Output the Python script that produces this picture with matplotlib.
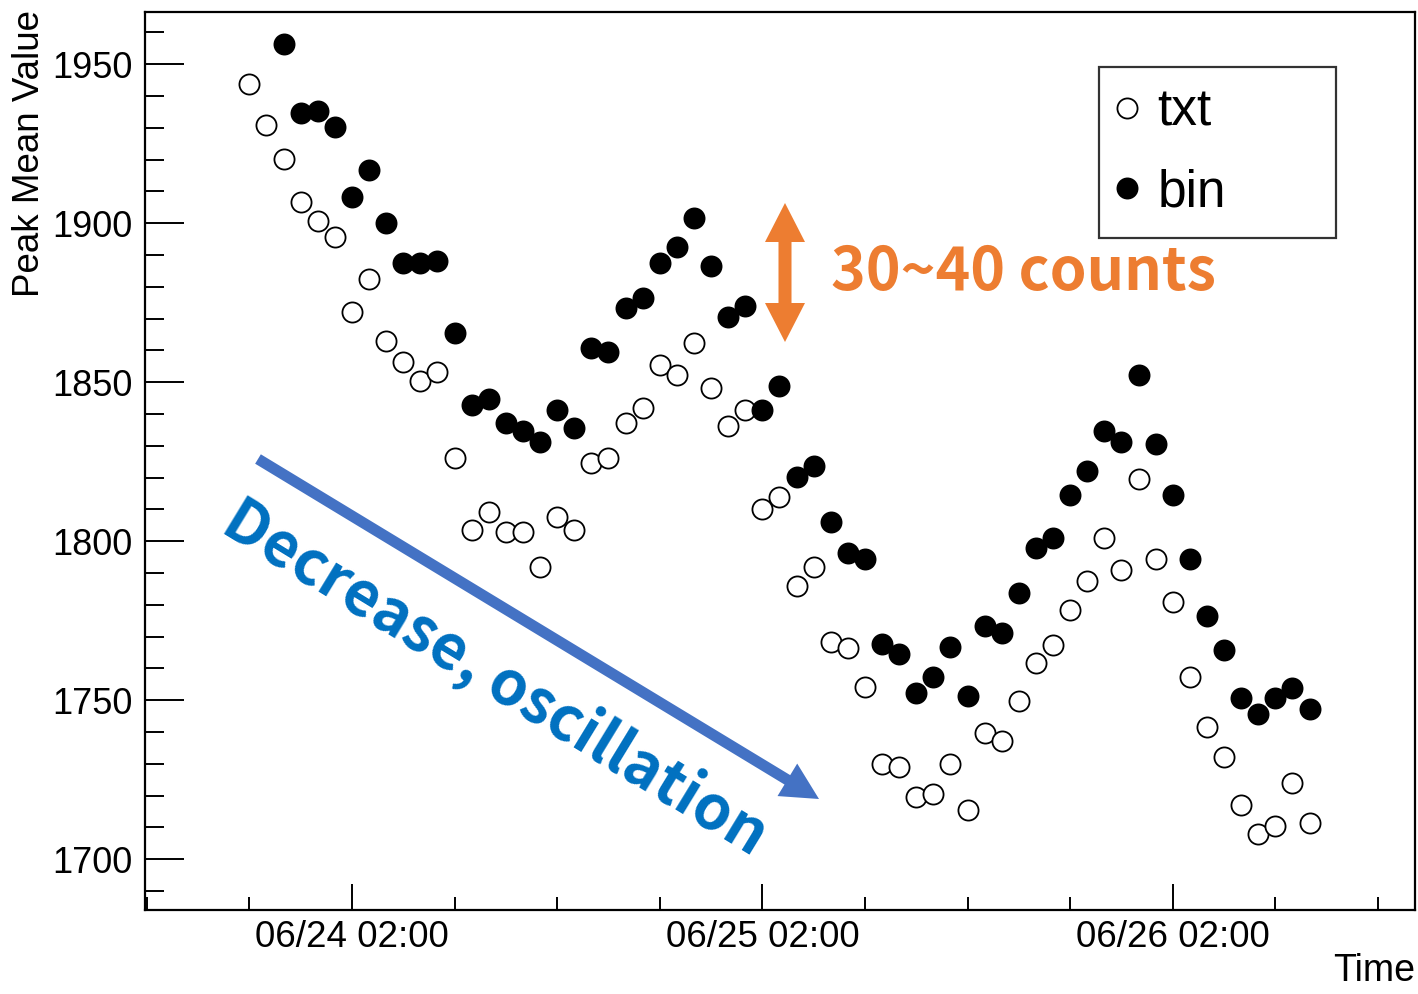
import pandas as pd
import matplotlib
matplotlib.use("Agg")
import matplotlib.pyplot as plt
import matplotlib.dates as mdates
from matplotlib.ticker import MultipleLocator
from matplotlib.patches import Polygon, FancyArrow
from matplotlib.transforms import Affine2D

# ---------------------------------------------------------
# DATA (hourly peak mean values)
# ---------------------------------------------------------
TXT_START = "2023-06-23 20:00"
BIN_START = "2023-06-23 22:00"

txt_values = [
    1943.7, 1930.8, 1920.1, 1906.6, 1900.6, 1895.6, 1872.0, 1882.4, 1862.9, 1856.3,
    1850.3, 1853.1, 1826.0, 1803.5, 1809.1, 1802.8, 1802.8, 1791.8, 1807.5, 1803.5,
    1824.5, 1826.0, 1837.0, 1841.8, 1855.3, 1852.2, 1862.3, 1848.1, 1836.2, 1841.2,
    1810.1, 1813.8, 1785.8, 1791.8, 1768.2, 1766.4, 1754.0, 1729.8, 1728.9, 1719.6,
    1720.6, 1729.8, 1715.4, 1739.7, 1737.1, 1749.7, 1761.6, 1767.4, 1778.4, 1787.5,
    1801.1, 1791.0, 1819.5, 1794.5, 1780.8, 1757.3, 1741.5, 1732.1, 1717.0, 1708.0,
    1710.4, 1723.9, 1711.3,
]

bin_values = [
    1956.3, 1934.6, 1935.2, 1930.2, 1908.2, 1916.7, 1900.0, 1887.4, 1887.4, 1888.2,
    1865.5, 1842.8, 1844.7, 1837.1, 1834.6, 1831.1, 1841.2, 1835.5, 1860.7, 1859.4,
    1873.3, 1876.4, 1887.4, 1892.5, 1901.6, 1886.5, 1870.4, 1873.9, 1841.2, 1848.7,
    1820.1, 1823.6, 1806.0, 1796.2, 1794.3, 1767.6, 1764.6, 1752.2, 1757.2, 1766.7,
    1751.3, 1773.4, 1771.0, 1783.7, 1797.8, 1800.9, 1814.5, 1822.0, 1834.6, 1831.1,
    1852.2, 1830.5, 1814.5, 1794.3, 1776.5, 1765.7, 1750.6, 1745.6, 1750.6, 1753.8,
    1747.2,
]

series_labels = ["txt", "bin"]
TIME_MIN = "2023-06-23 13:54"
TIME_MAX = "2023-06-26 16:10"
Y_MIN, Y_MAX = 1684.0, 1966.4

# ---------------------------------------------------------
# FIGURE
# ---------------------------------------------------------
W, H, DPI = 1418, 994, 100
FONT = "Liberation Sans"
JP_FONT = ["Noto Sans CJK JP", "DejaVu Sans"]

fig = plt.figure(figsize=(W / DPI, H / DPI), dpi=DPI)
ax = fig.add_axes([145 / W, 1 - 910 / H, 1270 / W, 898 / H])

# pixel coordinates (top-left origin) for the slide annotations
px = Affine2D().scale(1 / DPI, -1 / DPI).translate(0, H / DPI) + fig.dpi_scale_trans

t_txt = pd.date_range(TXT_START, periods=len(txt_values), freq="h")
t_bin = pd.date_range(BIN_START, periods=len(bin_values), freq="h")

ax.plot(t_txt, txt_values, linestyle="none", marker="o", markersize=14.5,
        markerfacecolor="white", markeredgecolor="black", markeredgewidth=1.3,
        label=series_labels[0])
ax.plot(t_bin, bin_values, linestyle="none", marker="o", markersize=14.5,
        markerfacecolor="black", markeredgecolor="black", markeredgewidth=1.3,
        label=series_labels[1])

ax.set_xlim(pd.Timestamp(TIME_MIN), pd.Timestamp(TIME_MAX))
ax.set_ylim(Y_MIN, Y_MAX)

# axis ticks, ROOT style (inside, bottom/left only)
ax.xaxis.set_major_locator(mdates.HourLocator(byhour=[2]))
ax.xaxis.set_minor_locator(mdates.HourLocator(byhour=[8, 14, 20]))
ax.xaxis.set_major_formatter(mdates.DateFormatter("%m/%d %H:%M"))
ax.yaxis.set_major_locator(MultipleLocator(50))
ax.yaxis.set_minor_locator(MultipleLocator(10))

ax.tick_params(axis="x", which="major", direction="in", length=19, width=1.4,
               pad=7, labelsize=26.5)
ax.tick_params(axis="x", which="minor", direction="in", length=9.5, width=1.4)
ax.tick_params(axis="y", which="major", direction="in", length=28, width=1.4,
               pad=9, labelsize=26)
ax.tick_params(axis="y", which="minor", direction="in", length=14, width=1.4)
for lab in ax.get_xticklabels() + ax.get_yticklabels():
    lab.set_fontfamily(FONT)
for sp in ax.spines.values():
    sp.set_linewidth(1.6)

ax.set_ylabel("Peak Mean Value", loc="top", fontsize=26.5, fontfamily=FONT)
ax.yaxis.set_label_coords(-0.077, 1.002)
ax.set_xlabel("Time", loc="right", fontsize=27, fontfamily=FONT)
ax.xaxis.set_label_coords(1.0, -0.048)

leg = ax.legend(loc="upper left", bbox_to_anchor=(0.7512, 0.9388 - 0.188, 0.1866, 0.188),
                mode="expand", borderaxespad=0, borderpad=0.4, handlelength=0.3,
                handletextpad=0.44, labelspacing=0.62, fancybox=False,
                prop={"family": FONT, "size": 37})
leg.get_frame().set_edgecolor("black")
leg.get_frame().set_linewidth(1.6)

# ---------------------------------------------------------
# SLIDE ANNOTATIONS
# ---------------------------------------------------------
orange = "#ED7D31"
arrow_pts = [(785, 203), (805, 242), (791.5, 242), (791.5, 303), (805, 303),
             (785, 342), (765, 303), (778.5, 303), (778.5, 242), (765, 242)]
fig.add_artist(Polygon(arrow_pts, closed=True, facecolor=orange, edgecolor="none",
                       transform=px))
fig.text(831, 290, "30~40 counts", transform=px, color=orange, fontsize=42.5,
         fontweight="bold", family=JP_FONT, ha="left", va="baseline")

fig.add_artist(FancyArrow(258, 459, 819 - 258, 799 - 459, width=11, head_width=38,
                          head_length=37, length_includes_head=True,
                          facecolor="#4472C4", edgecolor="none", transform=px))
fig.text(486, 694, "Decrease, oscillation", transform=px, color="#0070C0",
         fontsize=44, fontweight="bold", family=JP_FONT, rotation=-31.4,
         rotation_mode="anchor", ha="center", va="baseline")

fig.savefig("out.png", dpi=DPI)
